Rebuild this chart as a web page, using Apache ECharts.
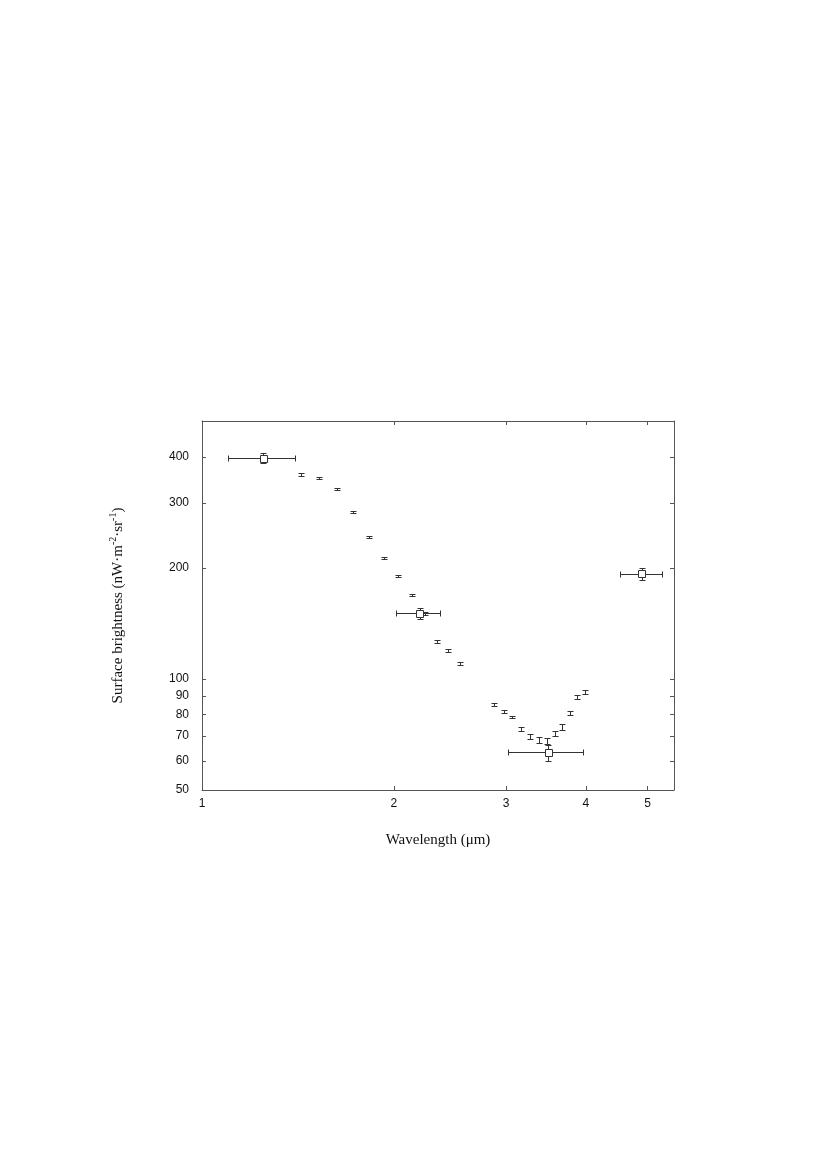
<!DOCTYPE html>
<html>
<head>
<meta charset="utf-8">
<title>Surface brightness vs wavelength</title>
<script src="https://cdn.jsdelivr.net/npm/echarts@6.0.0/dist/echarts.min.js"></script>
<style>
    html, body { margin: 0; padding: 0; background: #fff; }
    #main { width: 830px; height: 1175px; }
</style>
</head>
<body>
<div id="main"></div>
<script>
// broad band points (square marker, wavelength range as horizontal bar)
var bandWl   = [1.25, 2.2, 3.5, 4.9];
var bandWlLo = [1.10, 2.02, 3.03, 4.53];
var bandWlHi = [1.40, 2.37, 3.96, 5.27];
var bandVal  = [395, 150, 63, 192];
var bandErr  = [12, 5, 3.2, 7];

// narrow band spectrum points (error bars only)
var specWl  = [1.43, 1.53, 1.63, 1.73, 1.83, 1.93, 2.03, 2.14, 2.24, 2.34, 2.44, 2.54,
               2.88, 2.98, 3.07, 3.17, 3.28, 3.38, 3.48, 3.58, 3.68, 3.79, 3.88, 3.99];
var specVal = [357, 349, 327, 282, 241, 212, 190, 168, 150, 126, 119, 110,
               85, 81.4, 78.6, 72.9, 69.6, 68.2, 67.7, 70.9, 73.7, 80.6, 89.1, 92.0];
var specErr = [2.5, 2.2, 2, 1.8, 1.5, 1.3, 1.2, 1.1, 1, 0.9, 0.9, 1.1,
               0.6, 0.8, 0.6, 1.0, 1.2, 1.2, 1.2, 1.2, 1.4, 1.1, 1.2, 1.2];

// tick labels
var xTicks = [1, 2, 3, 4, 5];
var yTicks = [50, 60, 70, 80, 90, 100, 200, 300, 400];

var myChart = echarts.init(document.getElementById('main'));

var lineCol = '#333';
function px(v) { return Math.round(v - 0.5) + 0.5; }
function seg(x1, y1, x2, y2) {
    return {
        type: 'line',
        shape: { x1: px(x1), y1: px(y1), x2: px(x2), y2: px(y2) },
        style: { stroke: lineCol, lineWidth: 1 }
    };
}

function renderBand(params, api) {
    var x = api.value(0), y = api.value(1);
    var c = api.coord([x, y]);
    var l = api.coord([api.value(2), y]);
    var r = api.coord([api.value(3), y]);
    var t = api.coord([x, y + api.value(4)]);
    var b = api.coord([x, y - api.value(4)]);
    return {
        type: 'group',
        children: [
            seg(l[0], c[1], r[0], c[1]),
            seg(l[0], c[1] - 3, l[0], c[1] + 3),
            seg(r[0], c[1] - 3, r[0], c[1] + 3),
            seg(c[0], t[1], c[0], b[1]),
            seg(c[0] - 3, t[1], c[0] + 3, t[1]),
            seg(c[0] - 3, b[1], c[0] + 3, b[1]),
            {
                type: 'rect',
                shape: { x: px(c[0] - 3.5), y: px(c[1] - 3.5), width: 7, height: 7 },
                style: { fill: '#fff', stroke: lineCol, lineWidth: 1 }
            }
        ]
    };
}

function renderSpec(params, api) {
    var x = api.value(0), y = api.value(1);
    var t = api.coord([x, y + api.value(2)]);
    var b = api.coord([x, y - api.value(2)]);
    return {
        type: 'group',
        children: [
            seg(t[0], t[1], b[0], b[1]),
            seg(t[0] - 3, t[1], t[0] + 3, t[1]),
            seg(b[0] - 3, b[1], b[0] + 3, b[1])
        ]
    };
}

var bandData = [];
for (var i = 0; i < bandWl.length; i++) {
    bandData.push([bandWl[i], bandVal[i], bandWlLo[i], bandWlHi[i], bandErr[i]]);
}
var specData = [];
for (var j = 0; j < specWl.length; j++) {
    specData.push([specWl[j], specVal[j], specErr[j]]);
}

var labelFont = { color: '#111', fontFamily: 'Liberation Sans', fontSize: 12 };

function xAxisCfg(pos, showLabel) {
    return {
        type: 'log', logBase: 10, min: 1, max: 5.5, position: pos,
        axisLine: { show: true, onZero: false, lineStyle: { color: '#555', width: 1 } },
        axisTick: { show: true, inside: true, length: 4, customValues: xTicks, lineStyle: { color: '#555' } },
        axisLabel: Object.assign({ show: showLabel, customValues: xTicks, margin: 8,
            formatter: function (v) { return String(Math.round(v)); } }, labelFont),
        splitLine: { show: false },
        minorTick: { show: false }
    };
}
function yAxisCfg(pos, showLabel) {
    return {
        type: 'log', logBase: 10, min: 50, max: 500, position: pos,
        axisLine: { show: true, onZero: false, lineStyle: { color: '#555', width: 1 } },
        axisTick: { show: true, inside: true, length: 4, customValues: yTicks, lineStyle: { color: '#555' } },
        axisLabel: Object.assign({ show: showLabel, customValues: yTicks, margin: 13,
            formatter: function (v) { return String(Math.round(v)); } }, labelFont),
        splitLine: { show: false },
        minorTick: { show: false }
    };
}

var xMain = xAxisCfg('bottom', true);
xMain.name = 'Wavelength (\u03bcm)';
xMain.nameLocation = 'middle';
xMain.nameGap = 43;
xMain.nameTextStyle = { color: '#111', fontFamily: 'Liberation Serif', fontSize: 15 };

var yMain = yAxisCfg('left', true);
yMain.name = 'Surface brightness (nW\u00b7m{sup|-2}\u00b7sr{sup|-1})';
yMain.nameLocation = 'middle';
yMain.nameGap = 74;
yMain.nameTextStyle = {
    color: '#111', fontFamily: 'Liberation Serif', fontSize: 15, lineHeight: 20,
    rich: {
        sup: { fontFamily: 'Liberation Serif', fontSize: 10, lineHeight: 12, verticalAlign: 'top', color: '#111' }
    }
};

option = {
    animation: false,
    backgroundColor: '#fff',
    grid: { left: 202, top: 421, width: 472, height: 369, outerBoundsMode: 'none' },
    xAxis: [xMain, xAxisCfg('top', false)],
    yAxis: [yMain, yAxisCfg('right', false)],
    series: [
        {
            type: 'custom', name: 'spectrum',
            xAxisIndex: 0, yAxisIndex: 0,
            renderItem: renderSpec,
            encode: { x: 0, y: 1 },
            data: specData
        },
        {
            type: 'custom', name: 'bands',
            xAxisIndex: 0, yAxisIndex: 0,
            renderItem: renderBand,
            encode: { x: 0, y: 1 },
            data: bandData
        }
    ]
};
myChart.setOption(option);
</script>
</body>
</html>
